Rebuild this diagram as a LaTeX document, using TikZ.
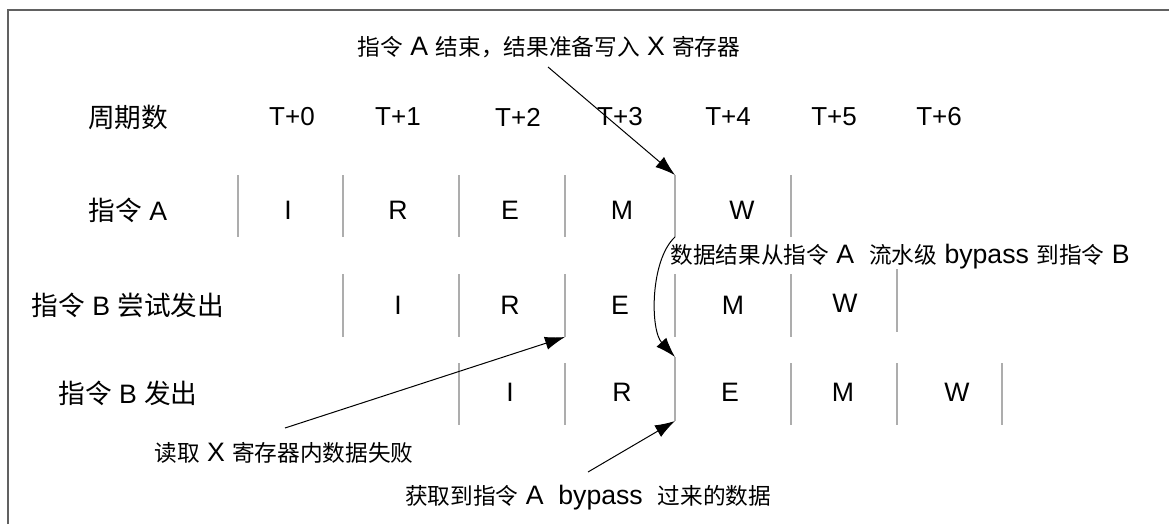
\documentclass[tikz,border=0pt]{standalone}
\usepackage{fontspec}
\setmainfont{Liberation Sans}
\newfontfamily\cjk{Noto Sans CJK SC}
\newfontfamily\cjks[Scale=0.85]{Noto Sans CJK SC}
\newcommand{\zh}[1]{{\cjk #1}}
\newcommand{\zs}[1]{{\cjks #1}}
\usetikzlibrary{arrows.meta}
\begin{document}
\begin{tikzpicture}[x=0.75pt,y=-0.75pt,
  sep/.style={draw=black!32,line width=0.8pt},
  frame/.style={draw=black!62,line width=1.5pt},
  conn/.style={draw=black,line width=0.75pt,-{Latex[length=15pt,width=10pt]}},
  hdr/.style={inner sep=0pt,font=\fontsize{19.5}{22}\selectfont},
  stage/.style={inner sep=0pt,font=\fontsize{20}{22}\selectfont},
  rowlbl/.style={inner sep=0pt,font=\fontsize{20}{22}\selectfont},
  note/.style={inner sep=0pt,font=\fontsize{20}{22}\selectfont}]
\useasboundingbox (0,0) rectangle (1169,524);
% frame
\coordinate (fbl) at (8,524);
\coordinate (ftl) at (8,10);
\coordinate (ftr) at (1169,10);
\draw[frame] (fbl) -- (ftl) -- (ftr);
% header
\node[rowlbl] (cyc) at (128,117) {\zh{周期数}};
\node[hdr] (t0) at (292,117) {T+0};
\node[hdr] (t1) at (398,117) {T+1};
\node[hdr] (t2) at (518,117) {T+2};
\node[hdr] (t3) at (620,117) {T+3};
\node[hdr] (t4) at (728,117) {T+4};
\node[hdr] (t5) at (834,117) {T+5};
\node[hdr] (t6) at (939,117) {T+6};
% row labels
\node[rowlbl] (ra) at (128,210) {\zh{指令} A};
\node[rowlbl] (rb) at (128,305) {\zh{指令} B \zh{尝试发出}};
\node[rowlbl] (rc) at (128,393) {\zh{指令} B \zh{发出}};
% row A stages
\node[stage] (aI) at (288,210) {I};
\node[stage] (aR) at (398,210) {R};
\node[stage] (aE) at (510,210) {E};
\node[stage] (aM) at (622,210) {M};
\node[stage] (aW) at (742,210) {W};
% row B stages
\node[stage] (bI) at (398,305) {I};
\node[stage] (bR) at (510,305) {R};
\node[stage] (bE) at (620,305) {E};
\node[stage] (bM) at (733,305) {M};
\node[stage] (bW) at (845,303) {W};
% row C stages
\node[stage] (cI) at (510,392) {I};
\node[stage] (cR) at (622,392) {R};
\node[stage] (cE) at (730,392) {E};
\node[stage] (cM) at (843,392) {M};
\node[stage] (cW) at (957,392) {W};
% separators row A
\foreach \x/\n in {238/1,343/2,459/3,565/4,675/5,791/6}{
  \coordinate (a\n t) at (\x,175); \coordinate (a\n b) at (\x,237);
  \draw[sep] (a\n t) -- (a\n b);}
% separators row B
\foreach \x/\n in {343/1,459/2,565/3,675/4,791/5}{
  \coordinate (b\n t) at (\x,274); \coordinate (b\n b) at (\x,337);
  \draw[sep] (b\n t) -- (b\n b);}
\coordinate (b6t) at (897,269); \coordinate (b6b) at (897,332);
\draw[sep] (b6t) -- (b6b);
% separators row C
\foreach \x/\n in {459/1,565/2,791/4,897/5,1002/6}{
  \coordinate (c\n t) at (\x,363); \coordinate (c\n b) at (\x,425);
  \draw[sep] (c\n t) -- (c\n b);}
\coordinate (c3t) at (675,357); \coordinate (c3b) at (675,421);
\draw[sep] (c3t) -- (c3b);
% annotations
\node[note] (n1) at (549,47) {\zs{指令} A \zs{结束，结果准备写入} X \zs{寄存器}};
\node[note] (n2) at (900,257) {\zs{数据结果从指令} A\ \ \zs{流水级} bypass \zs{到指令} B};
\node[note] (n3) at (284,453) {\zs{读取} X \zs{寄存器内数据失败}};
\node[note] (n4) at (588,498) {\zs{获取到指令} A\ \ bypass\ \ \zs{过来的数据}};
% connectors
\coordinate (s1) at (548,67);
\draw[conn] (s1) -- (a5t);
\draw[conn] (a5b) .. controls (650,260) and (650,330) .. (c3t);
\coordinate (s3) at (285,428);
\draw[conn] (s3) -- (b3b);
\coordinate (s4) at (588,472);
\draw[conn] (s4) -- (c3b);
\end{tikzpicture}
\end{document}
